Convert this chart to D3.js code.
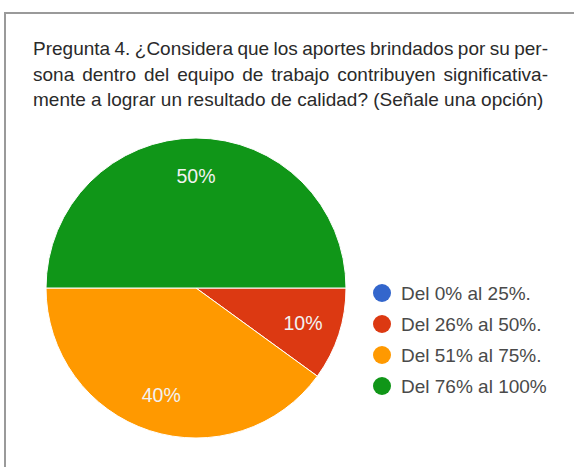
<!DOCTYPE html>
<html>
<head>
<meta charset="utf-8">
<script src="https://cdn.jsdelivr.net/npm/d3@7"></script>
<style>
  html, body { margin: 0; padding: 0; background: #fff; }
  svg { display: block; }
</style>
</head>
<body>
<svg id="chart" width="574" height="467"></svg>
<script>
const categories = ["Del 0% al 25%.", "Del 26% al 50%.", "Del 51% al 75%.", "Del 76% al 100%"];
const values = [0, 10, 40, 50];
const colors = ["#3366cc", "#dc3912", "#ff9900", "#109618"];
const titleLines = [
  "Pregunta 4. ¿Considera que los aportes brindados por su per-",
  "sona dentro del equipo de trabajo contribuyen significativa-",
  "mente a lograr un resultado de calidad? (Señale una opción)"
];

const W = 574, H = 467;
const svg = d3.select("#chart");
svg.append("rect").attr("width", W).attr("height", H).attr("fill", "#fff");

// frame (top + left)
svg.append("path")
  .attr("d", `M5,${H} L5,13 L${W},13`)
  .attr("fill", "none").attr("stroke", "#9a9a9a").attr("stroke-width", 2);

// title, justified
const tx0 = 33, tx1 = 548, ty0 = 55, lh = 25.5;
const font = "'Liberation Sans', Arial, Helvetica, sans-serif";
titleLines.forEach((line, li) => {
  const words = line.split(" ");
  const y = ty0 + li * lh;
  const g = svg.append("g");
  const nodes = words.map(w => g.append("text")
    .attr("y", y).attr("font-family", font).attr("font-size", 19)
    .attr("fill", "#2a2a2a").text(w));
  const widths = nodes.map(n => n.node().getComputedTextLength());
  const total = d3.sum(widths);
  const justify = li < titleLines.length - 1;
  const gap = justify ? (tx1 - tx0 - total) / (words.length - 1) : 5.3;
  let x = tx0;
  nodes.forEach((n, i) => { n.attr("x", x); x += widths[i] + gap; });
});

// pie
const cx = 196, cy = 288, R = 150;
const pie = d3.pie().sort(null).value(d => d)
  .startAngle(Math.PI / 2).endAngle(Math.PI / 2 + 2 * Math.PI);
const arcs = pie(values);
const arc = d3.arc().innerRadius(0).outerRadius(R);
const labelArc = d3.arc().innerRadius(R * 0.75).outerRadius(R * 0.75);
const color = d3.scaleOrdinal().domain(categories).range(colors);

const pg = svg.append("g").attr("transform", `translate(${cx},${cy})`);
pg.selectAll("path.slice").data(arcs.filter(d => d.value > 0)).join("path")
  .attr("class", "slice")
  .attr("d", arc)
  .attr("fill", d => color(categories[d.index]))
  .attr("stroke", "#fff").attr("stroke-width", 1);

pg.selectAll("text.lbl").data(arcs.filter(d => d.value > 0)).join("text")
  .attr("class", "lbl")
  .attr("transform", d => `translate(${labelArc.centroid(d)})`)
  .attr("text-anchor", "middle")
  .attr("dominant-baseline", "central")
  .attr("font-family", font)
  .attr("font-size", 19.5)
  .attr("fill", "#f2f2f2")
  .text(d => d.value + "%");

// legend
const ly = d3.scalePoint().domain(categories).range([293, 386]);
const lg = svg.append("g");
const items = lg.selectAll("g").data(categories).join("g")
  .attr("transform", d => `translate(0,${ly(d)})`);
items.append("circle").attr("cx", 382).attr("cy", 0).attr("r", 9)
  .attr("fill", d => color(d));
items.append("text").attr("x", 401).attr("y", 0)
  .attr("dominant-baseline", "central")
  .attr("font-family", font)
  .attr("font-size", 19)
  .attr("fill", "#4a4a4a")
  .text(d => d);
</script>
</body>
</html>
